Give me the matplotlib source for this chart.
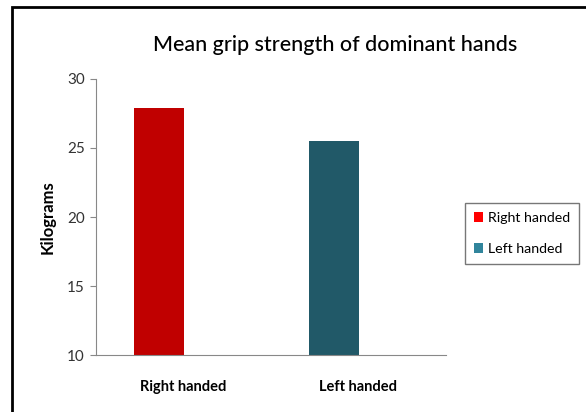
import matplotlib
matplotlib.use("Agg")
import matplotlib.pyplot as plt
from matplotlib.patches import Patch, Rectangle

categories = ["Right handed", "Left handed"]
values = [27.9, 25.5]
bar_colors = ["#C00000", "#215968"]
legend_colors = ["#FF0000", "#31859C"]
yticks = [10, 15, 20, 25, 30]

plt.rcParams['font.family'] = ['Lato', 'DejaVu Sans']

fig = plt.figure(figsize=(5.86, 4.12), dpi=100)
ax = fig.add_axes([0.1638, 0.1383, 0.597, 0.67])

x = list(range(len(categories)))
ax.bar([i - 0.14 for i in x], values, width=0.286, color=bar_colors, bottom=0)
ax.set_ylim(10, 30)
ax.set_xlim(-0.5, 1.5)
ax.set_yticks(yticks)
ax.set_yticklabels([str(t) for t in yticks], fontsize=11, color="#333333")
ax.set_xticks(x)
ax.set_xticklabels(categories, fontsize=10.5, fontweight="bold")
ax.tick_params(axis="x", length=0, pad=18)
ax.tick_params(axis="y", length=4, color="#888888", direction="out", pad=4)
for s in ["top", "right"]:
    ax.spines[s].set_visible(False)
for s in ["left", "bottom"]:
    ax.spines[s].set_color("#888888")
ax.set_ylabel("Kilograms", fontsize=12, fontweight="bold", labelpad=8)

fig.text(335 / 586, 1 - 45 / 412, "Mean grip strength of dominant hands",
         ha="center", va="center", fontsize=15.5, fontweight="medium")

handles = [Patch(facecolor=c, edgecolor="none") for c in legend_colors]
leg = fig.legend(handles, categories, loc="upper left",
                 bbox_to_anchor=(465 / 586, 1 - 203 / 412), fontsize=10.2,
                 frameon=True, fancybox=False, edgecolor="#555555",
                 handlelength=0.7, handleheight=0.7, handletextpad=0.35,
                 labelspacing=1.4, borderpad=0.6, borderaxespad=0)
leg.get_frame().set_linewidth(1.0)

fig.patches.append(Rectangle((12 / 586, -0.1), 1.2, 1 - 7 / 412 + 0.1,
                             transform=fig.transFigure, fill=False,
                             edgecolor="black", linewidth=2))

fig.savefig("out.png", dpi=100)
